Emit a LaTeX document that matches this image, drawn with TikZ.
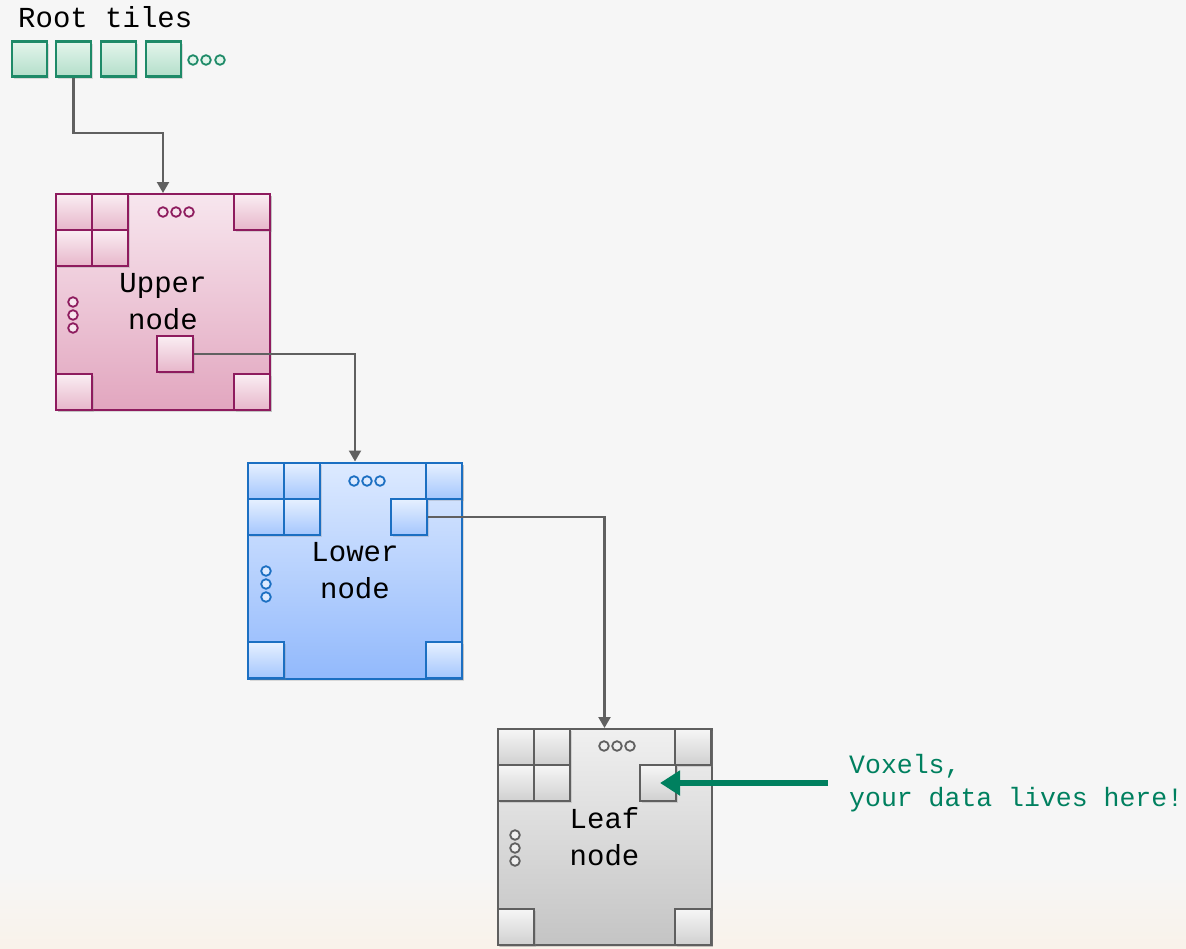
\documentclass[tikz,border=0pt]{standalone}
\usepackage{fontspec}
\setmonofont{Liberation Mono}
\usetikzlibrary{shadows,arrows.meta}
\definecolor{bgc}{HTML}{F6F6F6}
\definecolor{bgwarm}{HTML}{F9F2EA}
\definecolor{gbord}{HTML}{1E8A68}
\definecolor{gtop}{HTML}{E4F5EC}
\definecolor{gbot}{HTML}{B3DEC9}
\definecolor{pbord}{HTML}{8E1B5E}
\definecolor{ptop}{HTML}{F7E6EE}
\definecolor{pbot}{HTML}{E2A6BF}
\definecolor{pstop}{HTML}{FAEEF3}
\definecolor{psbot}{HTML}{E7B6CA}
\definecolor{bbord}{HTML}{1B6FC2}
\definecolor{btop}{HTML}{DDEAFF}
\definecolor{bbot}{HTML}{92B9FC}
\definecolor{bstop}{HTML}{E6F0FF}
\definecolor{bsbot}{HTML}{A4C6FD}
\definecolor{kbord}{HTML}{5F5F5F}
\definecolor{ktop}{HTML}{F0F0F0}
\definecolor{kbot}{HTML}{C4C4C4}
\definecolor{kstop}{HTML}{F6F6F6}
\definecolor{ksbot}{HTML}{D0D0D0}
\definecolor{conn}{HTML}{606060}
\definecolor{vgreen}{HTML}{00805F}
\tikzset{
  x=1pt, y=-1pt,
  shad/.style={drop shadow={opacity=0.25, shadow xshift=1.5pt, shadow yshift=-2pt}},
  bigbox/.style={draw=#1bord, line width=2pt, minimum width=214pt, minimum height=216pt,
    inner sep=0pt, shad, top color=#1top, bottom color=#1bot, align=center,
    font=\ttfamily\fontsize{29}{37}\selectfont},
  tile/.style={draw=#1bord, line width=2.5pt, minimum size=36pt, inner sep=0pt, shad,
    top color=#1stop, bottom color=#1sbot},
  rtile/.style={draw=gbord, line width=2.5pt, minimum size=35pt, inner sep=0pt, shad,
    top color=gtop, bottom color=gbot},
  dotc/.style={draw=#1bord, line width=1.8pt, fill=#1top},
  connector/.style={draw=conn, line width=2.2pt, -{Triangle[length=11pt,width=12pt]}},
  label/.style={font=\ttfamily\fontsize{29}{37}\selectfont, inner sep=0pt},
}
\begin{document}
\begin{tikzpicture}
\useasboundingbox (0,0) rectangle (1186,948);
\fill[bgc] (0,0) rectangle (1186,948);
\shade[top color=bgc, bottom color=bgwarm] (0,870) rectangle (1186,948);

% root tiles
\node[label, anchor=base west] (roottxt) at (18,27) {Root tiles};
\node[rtile] (r1) at (29.5,59) {};
\node[rtile] (r2) at (73.5,59) {};
\node[rtile] (r3) at (118.5,59) {};
\node[rtile] (r4) at (163.5,59) {};
\foreach \xx in {193,206,220} \draw[dotc=g] (\xx,60) circle (4.8);

% upper node
\node[bigbox=p] (upper) at (163,302) {Upper\\node};
\node[tile=p] (u1) at (74,212) {};
\node[tile=p] (u2) at (110,212) {};
\node[tile=p] (u3) at (74,248) {};
\node[tile=p] (u4) at (110,248) {};
\node[tile=p] (u5) at (252,212) {};
\node[tile=p] (u6) at (74,392) {};
\node[tile=p] (u7) at (252,392) {};
\node[tile=p] (um) at (175,354) {};
\foreach \xx in {163,176,189} \draw[dotc=p] (\xx,212) circle (4.8);
\foreach \yy in {302,315,328} \draw[dotc=p] (73,\yy) circle (4.8);

% lower node
\node[bigbox=b] (lower) at (355,570.5) {Lower\\node};
\node[tile=b] (l1) at (266,481) {};
\node[tile=b] (l2) at (302,481) {};
\node[tile=b] (l3) at (266,517) {};
\node[tile=b] (l4) at (302,517) {};
\node[tile=b] (l5) at (444,481) {};
\node[tile=b] (lm) at (409,517) {};
\node[tile=b] (l6) at (266,660) {};
\node[tile=b] (l7) at (444,660) {};
\foreach \xx in {354,367,380} \draw[dotc=b] (\xx,481) circle (4.8);
\foreach \yy in {571,584,597} \draw[dotc=b] (266,\yy) circle (4.8);

% leaf node
\node[bigbox=k] (leaf) at (604.5,837) {Leaf\\node};
\node[tile=k] (f1) at (516,747) {};
\node[tile=k] (f2) at (552,747) {};
\node[tile=k] (f3) at (516,783) {};
\node[tile=k] (f4) at (552,783) {};
\node[tile=k] (f5) at (693,747) {};
\node[tile=k] (fm) at (658,783) {};
\node[tile=k] (f6) at (516,927) {};
\node[tile=k] (f7) at (693,927) {};
\foreach \xx in {604,617,630} \draw[dotc=k] (\xx,746) circle (4.8);
\foreach \yy in {835,848,861} \draw[dotc=k] (515,\yy) circle (4.8);

% connectors
\draw[connector] (r2.south) -- ++(0,55) -| (upper.north);
\draw[connector] (um.east) -| (lower.north);
\draw[connector] (lm.east) -| (leaf.north);

% voxels label
\node[font=\ttfamily\fontsize{26.5}{33}\selectfont, text=vgreen, align=left, inner sep=0pt,
  anchor=west] (vox) at (849,783) {Voxels,\\your data lives here!};
\draw[vgreen, line width=6pt, -{Triangle[length=20pt,width=24pt]}]
  ([xshift=-21pt]vox.west) -- ([xshift=2pt]fm.center);
\end{tikzpicture}
\end{document}
